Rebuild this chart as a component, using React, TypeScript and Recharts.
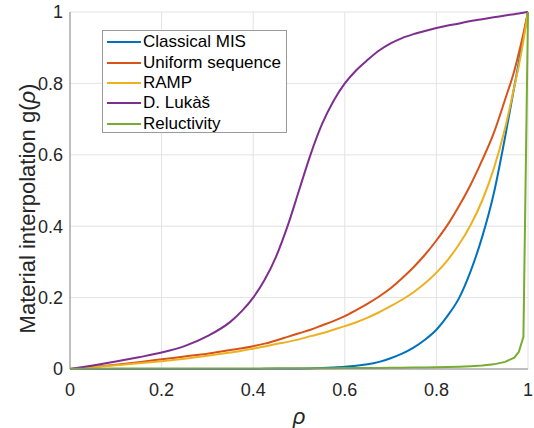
import { CartesianGrid, Legend, Line, LineChart, XAxis, YAxis } from 'recharts'

const rho = [
  0, 0.05, 0.1, 0.15, 0.2, 0.25, 0.3, 0.35, 0.375, 0.4, 0.425, 0.45, 0.475, 0.5, 0.525, 0.55, 0.575,
  0.6, 0.625, 0.65, 0.675, 0.7, 0.725, 0.75, 0.775, 0.8, 0.825, 0.85, 0.875, 0.9, 0.925, 0.95, 0.97,
  0.98, 0.99, 1,
]

const classicalMis = [
  0, 0, 0, 0, 0, 0, 0, 0, 0.0002, 0.0003, 0.0004, 0.0006, 0.0008, 0.001, 0.0017, 0.0025, 0.004,
  0.006, 0.009, 0.013, 0.02, 0.03, 0.043, 0.06, 0.082, 0.11, 0.15, 0.2, 0.275, 0.37, 0.49, 0.65, 0.79,
  0.86, 0.93, 1,
]

const uniformSequence = [
  0, 0.006, 0.012, 0.019, 0.027, 0.035, 0.043, 0.053, 0.058, 0.064, 0.071, 0.08, 0.09, 0.1, 0.11,
  0.122, 0.134, 0.148, 0.165, 0.183, 0.203, 0.226, 0.254, 0.285, 0.32, 0.36, 0.405, 0.458, 0.517,
  0.585, 0.66, 0.755, 0.835, 0.885, 0.94, 1,
]

const ramp = [
  0, 0.005, 0.0105, 0.016, 0.022, 0.029, 0.037, 0.046, 0.051, 0.057, 0.063, 0.07, 0.076, 0.083,
  0.092, 0.1, 0.11, 0.12, 0.131, 0.144, 0.159, 0.176, 0.194, 0.215, 0.24, 0.27, 0.306, 0.35, 0.404,
  0.472, 0.56, 0.675, 0.79, 0.85, 0.92, 1,
]

const lukas = [
  0, 0.01, 0.021, 0.033, 0.046, 0.064, 0.092, 0.132, 0.162, 0.2, 0.25, 0.315, 0.4, 0.5, 0.6, 0.685,
  0.75, 0.8, 0.837, 0.866, 0.892, 0.912, 0.927, 0.938, 0.947, 0.955, 0.962, 0.968, 0.975, 0.98,
  0.985, 0.99, 0.994, 0.996, 0.998, 1,
]

const reluctivity = [
  0.001, 0.001, 0.0011, 0.0012, 0.0012, 0.0013, 0.0014, 0.0015, 0.0016, 0.0017, 0.0017, 0.0018,
  0.0019, 0.002, 0.0021, 0.0022, 0.0024, 0.0025, 0.0027, 0.0029, 0.0031, 0.0033, 0.0036, 0.004,
  0.0044, 0.005, 0.0057, 0.0066, 0.008, 0.0099, 0.013, 0.02, 0.032, 0.048, 0.09, 1,
]

const ticks = [0, 0.2, 0.4, 0.6, 0.8, 1]

const series = [
  { key: 'mis', name: 'Classical MIS', color: '#0072BD', values: classicalMis },
  { key: 'uniform', name: 'Uniform sequence', color: '#D95319', values: uniformSequence },
  { key: 'ramp', name: 'RAMP', color: '#EDB120', values: ramp },
  { key: 'lukas', name: 'D. Lukàš', color: '#7E2F8E', values: lukas },
  { key: 'reluctivity', name: 'Reluctivity', color: '#77AC30', values: reluctivity },
]

const data = rho.map((r, i) => {
  const row: Record<string, number> = { rho: r }
  series.forEach((s) => {
    row[s.key] = s.values[i]
  })
  return row
})

const font = 'Helvetica, Arial, "Liberation Sans", sans-serif'

function LegendBox() {
  return (
    <div
      style={{
        border: '1px solid #9a9a9a',
        background: '#fff',
        width: 185,
        height: 103,
        boxSizing: 'border-box',
        padding: '1px 4px 0 4px',
        fontFamily: font,
        fontSize: 17,
        color: '#000',
      }}
    >
      {series.map((s) => (
        <div key={s.key} style={{ height: 20.4, display: 'flex', alignItems: 'center' }}>
          <svg width={34} height={4} style={{ marginRight: 2 }}>
            <line x1={0} y1={2} x2={34} y2={2} stroke={s.color} strokeWidth={2} />
          </svg>
          <span style={{ whiteSpace: 'nowrap' }}>{s.name}</span>
        </div>
      ))}
    </div>
  )
}

export default function App() {
  return (
    <div style={{ position: 'absolute', left: 0, top: 0, width: 534, height: 428, background: '#fff' }}>
      <LineChart
        width={534}
        height={428}
        data={data}
        margin={{ top: 12, right: 6, bottom: 0, left: 0 }}
      >
        <CartesianGrid stroke="#e3e3e3" />
        <XAxis
          dataKey="rho"
          type="number"
          domain={[0, 1]}
          ticks={ticks}
          height={59}
          tickLine={false}
          tickSize={0}
          tickMargin={14}
          stroke="#8c8c8c"
          tick={{ fill: '#262626', fontSize: 18, fontFamily: font }}
          label={({ viewBox }: any) => (
            <text
              x={viewBox.x + viewBox.width / 2}
              y={viewBox.y + 55}
              textAnchor="middle"
              fill="#262626"
              fontSize={22}
              fontStyle="italic"
              fontFamily={font}
            >
              ρ
            </text>
          )}
        />
        <YAxis
          type="number"
          domain={[0, 1]}
          ticks={ticks}
          width={70}
          tickLine={false}
          tickSize={0}
          tickMargin={7}
          stroke="#8c8c8c"
          tick={{ fill: '#262626', fontSize: 18, fontFamily: font }}
          label={({ viewBox }: any) => (
            <text
              x={27}
              y={viewBox.y + viewBox.height / 2 + 18}
              transform={`rotate(-90 27 ${viewBox.y + viewBox.height / 2 + 18})`}
              textAnchor="middle"
              dominantBaseline="central"
              fill="#262626"
              fontSize={22}
              fontFamily={font}
            >
              Material interpolation g(<tspan fontStyle="italic">ρ</tspan>)
            </text>
          )}
        />
        <Legend
          verticalAlign="middle"
          layout="horizontal"
          content={() => <LegendBox />}
          wrapperStyle={{ position: 'absolute', left: 102, top: 30, width: 185, height: 103 }}
        />
        {series.map((s) => (
          <Line
            key={s.key}
            dataKey={s.key}
            name={s.name}
            stroke={s.color}
            strokeWidth={2}
            dot={false}
            type={s.key === 'reluctivity' ? 'linear' : 'monotone'}
            isAnimationActive={false}
          />
        ))}
      </LineChart>
    </div>
  )
}
